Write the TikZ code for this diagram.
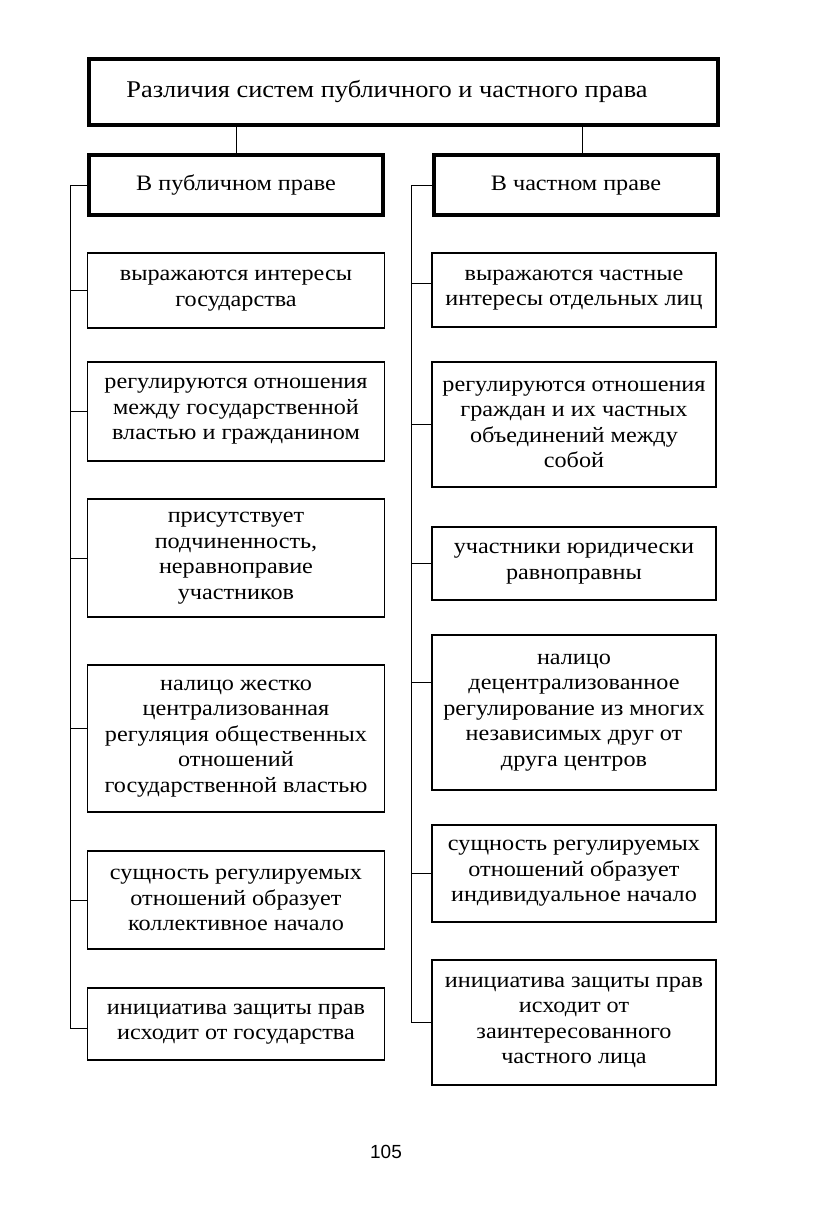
\documentclass[tikz,border=0pt]{standalone}
\usepackage{fontspec}
\setmainfont[FakeStretch=1.1]{Liberation Serif}
\newfontfamily\pagenumfont{Liberation Sans}
\usetikzlibrary{positioning}

\begin{document}
\begin{tikzpicture}[x=1pt, y=-1pt,
    every node/.style={inner sep=0pt},
    box/.style={draw, line width=1.3pt, align=center, font=\fontsize{22}{25.5}\selectfont},
    headbox/.style={draw, line width=3.8pt, align=center, text height=15pt, text depth=5pt,
        font=\fontsize{22}{25.5}\selectfont},
    link/.style={line width=0.9pt}]
    \useasboundingbox (0,0) rectangle (817,1215);
    % Title and the two headers
    \node[headbox, minimum width=629pt, minimum height=66pt, font=\fontsize{24}{28}\selectfont]
        (title) at (403.5,92) {Различия систем публичного и частного права\hspace*{33pt}};
    \node[headbox, minimum width=294pt, minimum height=60pt] (lh) at (236,185) {В публичном праве};
    \node[headbox, minimum width=284pt, minimum height=60pt] (rh) at (576,185) {В частном праве};
    \draw[link] (lh.north) -- (lh.north |- title.south);
    \draw[link] ([xshift=6pt]rh.north) -- ([xshift=6pt]rh.north |- title.south);
    % Public law column
    \node[box, minimum width=297pt, minimum height=75pt]  (l1) at (236,290.5) {выражаются интересы\\государства};
    \node[box, minimum width=297pt, minimum height=99pt]  (l2) at (236,411.5) {регулируются отношения\\между государственной\\властью и гражданином};
    \node[box, minimum width=297pt, minimum height=118pt] (l3) at (236,558) {присутствует\\подчиненность,\\неравноправие\\участников};
    \node[box, minimum width=297pt, minimum height=147pt] (l4) at (236,738.5) {налицо жестко\\централизованная\\регуляция общественных\\отношений\\государственной властью};
    \node[box, minimum width=297pt, minimum height=98pt]  (l5) at (236,900) {сущность регулируемых\\отношений образует\\коллективное начало};
    \node[box, minimum width=297pt, minimum height=72pt]  (l6) at (236,1024) {инициатива защиты прав\\исходит от государства};
    % Private law column
    \node[box, minimum width=284pt, minimum height=74pt]  (r1) at (574,290) {выражаются частные\\интересы отдельных лиц};
    \node[box, minimum width=284pt, minimum height=125pt] (r2) at (574,424.5) {регулируются отношения\\граждан и их частных\\объединений между\\собой};
    \node[box, minimum width=284pt, minimum height=73pt]  (r3) at (574,563.5) {участники юридически\\равноправны};
    \node[box, minimum width=284pt, minimum height=155pt] (r4) at (574,712.5) {налицо\\децентрализованное\\регулирование из многих\\независимых друг от\\друга центров};
    \node[box, minimum width=284pt, minimum height=97pt]  (r5) at (574,873.5) {сущность регулируемых\\отношений образует\\индивидуальное начало};
    \node[box, minimum width=284pt, minimum height=125pt] (r6) at (574,1022.5) {инициатива защиты прав\\исходит от\\заинтересованного\\частного лица};
    % Spines and ticks
    \draw[link] (lh.west) -- ++(-17pt,0) coordinate (ls) |- ([yshift=-4pt]l6.west);
    \draw[link] (rh.west) -- ++(-21pt,0) coordinate (rs) |- (r6.west);
    \foreach \n in {l1,l2,l3,l5}
        \draw[link] (\n.west) -- (\n.west -| ls);
    \draw[link] ([yshift=10pt]l4.west) coordinate (l4t) -- (l4t -| ls);
    \foreach \n in {r2,r3,r5}
        \draw[link] (\n.west) -- (\n.west -| rs);
    \draw[link] ([yshift=7pt]r1.west) coordinate (r1t) -- (r1t -| rs);
    \draw[link] ([yshift=30pt]r4.west) coordinate (r4t) -- (r4t -| rs);
    % Page number
    \node[font=\pagenumfont\fontsize{19}{22}\selectfont] (pagenum) at (386,1152) {105};
\end{tikzpicture}
\end{document}
